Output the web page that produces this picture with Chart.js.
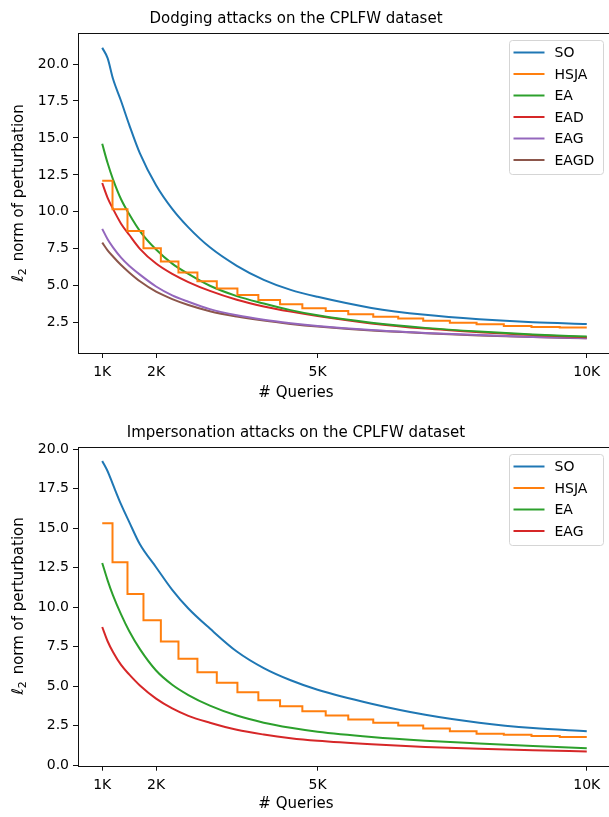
<!DOCTYPE html>
<html>
<head>
<meta charset="utf-8">
<script src="https://cdn.jsdelivr.net/npm/chart.js@4.4.0/dist/chart.umd.min.js"></script>
<style>
  html, body { margin: 0; padding: 0; background: #fff; }
  #page { position: relative; width: 609px; height: 817px; overflow: hidden; font-family: 'DejaVu Sans', sans-serif; color: #000; }
  .box { position: absolute; left: 0; }
  .txt { position: absolute; width: 500px; text-align: center; font-size: 15px; line-height: 18px; white-space: nowrap; }
  .ylab { position: absolute; width: 300px; height: 20px; left: -132px; font-size: 15px; line-height: 20px; text-align: center; white-space: nowrap; transform: rotate(-90deg); transform-origin: 50% 50%; }
  .ylab i { font-style: italic; font-size: 16px; }
  .ylab sub { font-size: 11px; vertical-align: -3px; line-height: 0; margin-right: 2px; }
</style>
</head>
<body>
<div id="page">
  <div class="box" style="top:0"><canvas id="dodge" width="620" height="410"></canvas></div>
  <div class="box" style="top:410px"><canvas id="imp" width="620" height="407"></canvas></div>
  <div class="txt" style="left:46px;top:9px">Dodging attacks on the CPLFW dataset</div>
  <div class="txt" style="left:46px;top:383px"># Queries</div>
  <div class="ylab" style="top:183px"><i>ℓ</i><sub>2</sub> norm of perturbation</div>
  <div class="txt" style="left:46px;top:423px">Impersonation attacks on the CPLFW dataset</div>
  <div class="txt" style="left:46px;top:794px"># Queries</div>
  <div class="ylab" style="top:596px"><i>ℓ</i><sub>2</sub> norm of perturbation</div>
</div>
<script>
const queries = [1000, 1100, 1200, 1350, 1500, 1700, 2000, 2300, 2600, 3000, 3500, 4000, 4500, 5000, 6000, 7000, 8000, 9000, 10000];
const xTicks = [1000, 2000, 5000, 10000];
const xTickLabels = ['1K', '2K', '5K', '10K'];
const dodgeYTicks = [2.5, 5, 7.5, 10, 12.5, 15, 17.5, 20];
const impYTicks = [0, 2.5, 5, 7.5, 10, 12.5, 15, 17.5, 20];

// dodging
const soDodge   = [21.1, 20.4, 19.0, 17.5, 15.9, 13.95, 11.8, 10.2, 8.95, 7.6, 6.35, 5.4, 4.72, 4.25, 3.5, 3.03, 2.73, 2.53, 2.42];
const eaDodge   = [14.6, 13.3, 12.2, 10.85, 9.85, 8.7, 7.45, 6.5, 5.8, 5.0, 4.3, 3.8, 3.35, 3.0, 2.5, 2.15, 1.9, 1.71, 1.56];
const eadDodge  = [11.95, 10.95, 10.2, 9.2, 8.45, 7.5, 6.5, 5.8, 5.25, 4.65, 4.05, 3.6, 3.25, 2.95, 2.45, 2.1, 1.86, 1.67, 1.52];
const eagDodge  = [8.85, 8.15, 7.6, 6.9, 6.35, 5.75, 4.95, 4.35, 3.92, 3.42, 3.0, 2.7, 2.47, 2.28, 2.0, 1.81, 1.66, 1.54, 1.45];
const eagdDodge = [7.92, 7.4, 6.98, 6.4, 5.9, 5.3, 4.6, 4.1, 3.7, 3.28, 2.92, 2.64, 2.42, 2.24, 1.97, 1.79, 1.64, 1.53, 1.44];

// HSJA is a staircase: query counts where each level starts (last = end of run)
const hsjaQueries = [1000, 1191, 1469, 1766, 2089, 2416, 2768, 3128, 3511, 3900, 4303, 4717, 5151, 5570, 6034, 6498, 6962, 7457, 7953, 8459, 8973, 9498, 10000];
const hsjaDodge = [12.1, 10.18, 8.71, 7.54, 6.64, 5.89, 5.3, 4.81, 4.38, 4.04, 3.75, 3.48, 3.3, 3.08, 2.91, 2.78, 2.64, 2.5, 2.39, 2.28, 2.21, 2.17, 2.17];

// impersonation
const soImp   = [19.25, 18.6, 17.75, 16.5, 15.4, 13.98, 12.53, 11.1, 9.92, 8.65, 7.2, 6.15, 5.38, 4.78, 3.9, 3.2, 2.7, 2.36, 2.16];
const eaImp   = [12.8, 11.7, 10.75, 9.55, 8.5, 7.35, 6.0, 5.1, 4.45, 3.78, 3.15, 2.7, 2.38, 2.13, 1.8, 1.56, 1.38, 1.22, 1.09];
const eagImp  = [8.75, 7.85, 7.17, 6.35, 5.75, 5.05, 4.22, 3.6, 3.13, 2.7, 2.25, 1.95, 1.72, 1.56, 1.34, 1.17, 1.05, 0.96, 0.88];
const hsjaImp = [15.31, 12.85, 10.83, 9.18, 7.84, 6.75, 5.89, 5.22, 4.62, 4.12, 3.74, 3.43, 3.15, 2.9, 2.69, 2.52, 2.33, 2.16, 2.0, 1.94, 1.85, 1.79, 1.79];

const COLORS = {
  SO: '#1f77b4', HSJA: '#ff7f0e', EA: '#2ca02c', EAD: '#d62728', EAG: '#9467bd', EAGD: '#8c564b'
};
const FONT = 'DejaVu Sans';

function curve(label, ys, color) {
  return {
    label,
    data: queries.map((q, i) => ({ x: q, y: ys[i] })),
    borderColor: color || COLORS[label],
    borderWidth: 2,
    pointRadius: 0,
    fill: false,
    cubicInterpolationMode: 'monotone'
  };
}

function steps(label, ys) {
  return {
    label,
    data: hsjaQueries.map((q, i) => ({ x: q, y: ys[i] })),
    borderColor: COLORS[label],
    borderWidth: 2,
    pointRadius: 0,
    fill: false,
    stepped: true
  };
}

// axes frame + legend inside upper right, like matplotlib
const frameAndLegend = {
  id: 'frameAndLegend',
  afterDatasetsDraw(chart) {
    const { ctx, chartArea: a } = chart;
    ctx.save();
    ctx.strokeStyle = '#111';
    ctx.lineWidth = 1;
    ctx.strokeRect(Math.round(a.left) + 0.5, Math.round(a.top) + 0.5, a.right - a.left, a.bottom - a.top);

    const sets = chart.data.datasets;
    const rowH = 21.5, w = 94, h = sets.length * rowH + 5;
    const x0 = Math.round(a.right - 8 - w) + 0.5, y0 = Math.round(a.top + 7) + 0.5;
    ctx.beginPath();
    ctx.roundRect(x0, y0, w, h, 3);
    ctx.fillStyle = 'rgba(255,255,255,0.8)';
    ctx.fill();
    ctx.strokeStyle = '#d5d5d5';
    ctx.stroke();
    ctx.font = '14px "' + FONT + '"';
    ctx.textBaseline = 'middle';
    sets.forEach((ds, i) => {
      const y = y0 + 12 + i * rowH;
      ctx.strokeStyle = ds.borderColor;
      ctx.lineWidth = 2;
      ctx.beginPath();
      ctx.moveTo(x0 + 4, y);
      ctx.lineTo(x0 + 35, y);
      ctx.stroke();
      ctx.fillStyle = '#000';
      ctx.fillText(ds.label, x0 + 45, y + 1);
    });
    ctx.restore();
  }
};

function makeChart(id, datasets, yMin, yMax, yTicks, padTop, xHeight) {
  return new Chart(document.getElementById(id), {
    type: 'line',
    data: { datasets },
    plugins: [frameAndLegend],
    options: {
      responsive: false,
      animation: false,
      layout: { padding: { top: padTop, right: 9, left: 0, bottom: 0 } },
      plugins: { legend: { display: false }, tooltip: { enabled: false } },
      scales: {
        x: {
          type: 'linear',
          min: 550,
          max: 10450,
          afterBuildTicks: s => { s.ticks = xTicks.map(v => ({ value: v })); },
          afterFit: s => { s.height = xHeight; },
          ticks: {
            autoSkip: false, maxRotation: 0, padding: 6, color: '#000',
            font: { family: FONT, size: 14 },
            callback: (v, i) => xTickLabels[i]
          },
          grid: { drawOnChartArea: false, drawTicks: true, tickLength: 5, color: '#111' },
          border: { display: false }
        },
        y: {
          min: yMin,
          max: yMax,
          afterBuildTicks: s => { s.ticks = yTicks.map(v => ({ value: v })); },
          afterFit: s => { s.width = 78; },
          ticks: {
            padding: 4, color: '#000',
            font: { family: FONT, size: 14 },
            callback: v => v.toFixed(1)
          },
          grid: { drawOnChartArea: false, drawTicks: true, tickLength: 5, color: '#111' },
          border: { display: false }
        }
      }
    }
  });
}

makeChart('dodge', [
  curve('SO', soDodge),
  steps('HSJA', hsjaDodge),
  curve('EA', eaDodge),
  curve('EAD', eadDodge),
  curve('EAG', eagDodge),
  curve('EAGD', eagdDodge)
], 0.45, 22.1, dodgeYTicks, 33, 57);

// in the lower panel the red curve is labelled EAG
makeChart('imp', [
  curve('SO', soImp),
  steps('HSJA', hsjaImp),
  curve('EA', eaImp),
  curve('EAG', eagImp, COLORS.EAD)
], -0.02, 20.15, impYTicks, 36.7, 51.3);
</script>
</body>
</html>
